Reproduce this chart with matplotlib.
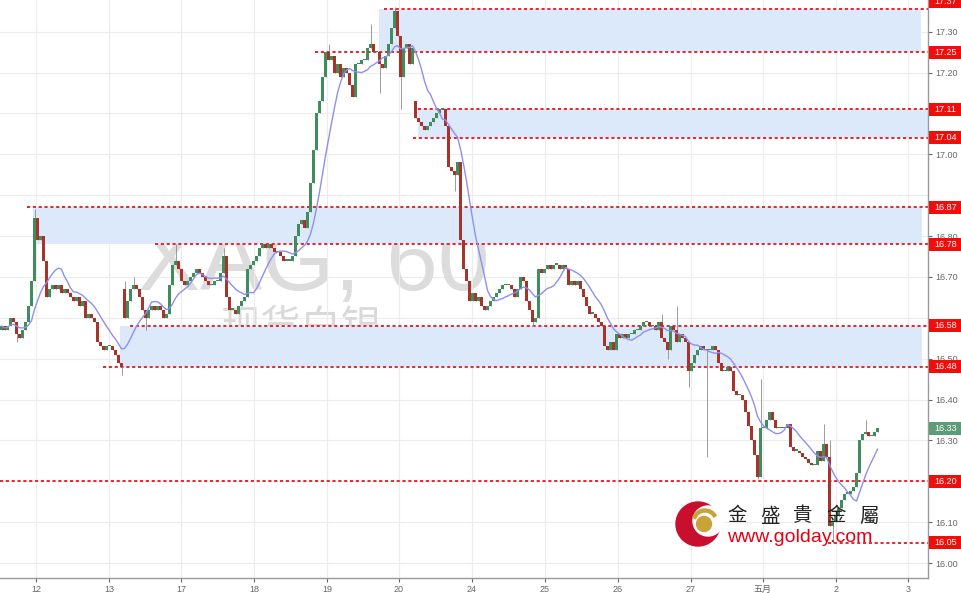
import matplotlib
matplotlib.use("Agg")
import matplotlib.pyplot as plt
import matplotlib.transforms as mtransforms
from matplotlib.patches import Rectangle, Circle, Wedge
import numpy as np
import pandas as pd

plt.rcParams["font.family"] = ["Liberation Sans", "Noto Sans CJK SC", "DejaVu Sans"]

# XAG 60분봉 종가 (왼쪽 -> 오른쪽)
closes = [
    16.58, 16.57, 16.58, 16.60, 16.59, 16.56, 16.55, 16.57, 16.59, 16.63,
    16.69, 16.845, 16.79, 16.80, 16.74, 16.65, 16.67, 16.68, 16.67, 16.68,
    16.66, 16.67, 16.66, 16.65, 16.64, 16.65, 16.63, 16.64, 16.60, 16.61,
    16.60, 16.59, 16.54, 16.53, 16.52, 16.53, 16.53, 16.52, 16.51, 16.49,
    16.48, 16.60, 16.64, 16.67, 16.68, 16.67, 16.65, 16.62, 16.60, 16.62,
    16.63, 16.62, 16.63, 16.62, 16.60, 16.61, 16.68, 16.73, 16.74, 16.72,
    16.69, 16.68, 16.69, 16.70, 16.71, 16.72, 16.71, 16.70, 16.69, 16.68,
    16.68, 16.69, 16.69, 16.71, 16.75, 16.65, 16.62, 16.62, 16.61, 16.63,
    16.64, 16.65, 16.72, 16.73, 16.74, 16.75, 16.77, 16.78, 16.77, 16.78,
    16.77, 16.76, 16.76, 16.75, 16.74, 16.74, 16.74, 16.75, 16.80, 16.83,
    16.84, 16.82, 16.86, 16.93, 17.01, 17.10, 17.13, 17.19, 17.25, 17.23,
    17.24, 17.20, 17.22, 17.19, 17.21, 17.20, 17.17, 17.14, 17.22, 17.22,
    17.23, 17.23, 17.26, 17.27, 17.25, 17.25, 17.22, 17.21, 17.24, 17.27,
    17.31, 17.35, 17.29, 17.19, 17.26, 17.27, 17.22, 17.26, 17.09, 17.08,
    17.07, 17.06, 17.07, 17.08, 17.09, 17.10, 17.11, 17.11, 17.07, 16.97,
    16.96, 16.95, 16.98, 16.79, 16.72, 16.69, 16.64, 16.66, 16.64, 16.65,
    16.63, 16.62, 16.63, 16.64, 16.65, 16.66, 16.67, 16.68, 16.68, 16.68,
    16.67, 16.65, 16.67, 16.70, 16.69, 16.64, 16.62, 16.59, 16.60, 16.72,
    16.71, 16.72, 16.73, 16.72, 16.73, 16.73, 16.72, 16.73, 16.72, 16.68,
    16.69, 16.68, 16.69, 16.67, 16.65, 16.63, 16.61, 16.61, 16.60, 16.59,
    16.58, 16.53, 16.52, 16.54, 16.52, 16.56, 16.55, 16.56, 16.55, 16.56,
    16.56, 16.57, 16.57, 16.58, 16.59, 16.59, 16.58, 16.58, 16.57, 16.59,
    16.55, 16.54, 16.52, 16.58, 16.57, 16.54, 16.56, 16.55, 16.54, 16.47,
    16.49, 16.51, 16.52, 16.53, 16.52, 16.52, 16.52, 16.53, 16.52, 16.49,
    16.47, 16.47, 16.48, 16.47, 16.42, 16.41, 16.41, 16.40, 16.37, 16.335,
    16.30, 16.265, 16.21, 16.33, 16.33, 16.35, 16.37, 16.35, 16.33, 16.33,
    16.33, 16.33, 16.34, 16.285, 16.275, 16.275, 16.27, 16.26, 16.255, 16.245,
    16.24, 16.24, 16.275, 16.25, 16.29, 16.26, 16.09, 16.10, 16.115, 16.135,
    16.155, 16.17, 16.17, 16.175, 16.185, 16.22, 16.30, 16.315, 16.32, 16.31,
    16.31, 16.32, 16.33,
]
first_open = 16.57
gap_opens = {41: 16.67, 138: 17.13}
wick_highs = {11: 16.865, 41: 16.69, 44: 16.70, 58: 16.78, 74: 16.77, 109: 17.27,
              123: 17.32, 131: 17.36, 220: 16.61, 225: 16.63, 253: 16.45,
              274: 16.34, 276: 16.30, 288: 16.35}
wick_lows = {5: 16.54, 40: 16.46, 48: 16.57, 126: 17.15, 133: 17.11, 151: 16.91,
             177: 16.58, 222: 16.50, 229: 16.43, 235: 16.26, 252: 16.205,
             277: 16.05}

day_labels = ["12", "13", "17", "18", "19", "20", "24", "25", "26", "27", "五月", "2", "3"]

price_ticks = [16.00, 16.10, 16.30, 16.40, 16.50, 16.70, 16.80, 17.00, 17.20, 17.30]
level_prices = [17.355, 17.25, 17.11, 17.04, 16.87, 16.78, 16.58, 16.48, 16.20, 16.05]
tag_prices = [17.375, 17.25, 17.11, 17.04, 16.87, 16.78, 16.58, 16.48, 16.20, 16.05]
tag_texts = ["17.37", "17.25", "17.11", "17.04", "16.87", "16.78", "16.58", "16.48", "16.20", "16.05"]
zone_low = [17.25, 17.04, 16.78, 16.48]
zone_high = [17.355, 17.11, 16.87, 16.58]
last_price = 16.33

# 레이아웃 (픽셀)
W, H = 962, 593
PLOT_W, PLOT_H = 928, 578
PX_BAR = 3.0
day_tick_px = [36, 109, 181, 254, 327, 399, 472, 545, 618, 691, 763, 836, 908]
level_start_px = [384, 315, 418, 413, 27, 155, 130, 103, 0, 828]
zone_start_px = [379, 418, 33, 120]
zone_end_px = [921, 928, 922, 922]
Y_TOP, Y_BOT = 17.3775, 15.9633

GREEN = "#3f8c5c"
RED = "#a8332a"
WICK = "#8c8c8c"
TAG_RED = "#f20d0d"
LINE_RED = "#e8262d"
ZONE = "#dce9fa"

fig = plt.figure(figsize=(W / 100, H / 100), dpi=100)
ax = fig.add_axes([0, (H - PLOT_H) / H, PLOT_W / W, PLOT_H / H])
ax.set_xlim(0, PLOT_W / PX_BAR)
ax.set_ylim(Y_BOT, Y_TOP)

# 캔들
c = np.array(closes)
n = len(c)
x = np.arange(n) + 0.5
o = np.r_[first_open, c[:-1]]
for k, v in gap_opens.items():
    o[k] = v
hi = np.maximum(o, c)
lo = np.minimum(o, c)
for k, v in wick_highs.items():
    hi[k] = v
for k, v in wick_lows.items():
    lo[k] = v
col = np.where(c >= o, GREEN, RED)
body = np.maximum(np.abs(c - o), 0.003)
ax.vlines(x, lo, hi, color=WICK, lw=0.6, zorder=3)
ax.bar(x, body, bottom=np.minimum(o, c), width=0.72, color=col, linewidth=0, zorder=4)

ma = pd.Series(c).rolling(10, min_periods=1).mean()
ax.plot(x, ma, color="#8f8ff0", lw=1.0, zorder=5)

# 지지/저항 구간
for zl, zh, xs, xe in zip(zone_low, zone_high, zone_start_px, zone_end_px):
    ax.add_patch(Rectangle((xs / PX_BAR, zl), (xe - xs) / PX_BAR, zh - zl,
                           facecolor=ZONE, edgecolor="none", zorder=1))
for p, xs in zip(level_prices, level_start_px):
    ax.hlines(p, xs / PX_BAR, PLOT_W / PX_BAR, colors=LINE_RED,
              linestyles=(0, (1.6, 1.4)), lw=1.4, zorder=2)

# 워터마크
ax.text(138 / PLOT_W, (PLOT_H - 290) / PLOT_H, "XAG, 60", transform=ax.transAxes,
        fontsize=67, color="#dcdcdc", ha="left", va="baseline", zorder=0.5)
ax.text(301 / PLOT_W, (PLOT_H - 327) / PLOT_H, "现货白银", transform=ax.transAxes,
        fontsize=29, color="#d9d9d9", ha="center", va="center", zorder=0.5,
        family=["Noto Sans CJK SC"])

# 축
ax.yaxis.tick_right()
ax.set_yticks(price_ticks)
ax.set_yticklabels([f"{v:.2f}" for v in price_ticks])
ax.set_xticks([p / PX_BAR for p in day_tick_px])
ax.set_xticklabels(day_labels)
ax.tick_params(axis="both", labelsize=6.5, colors="#666666", length=3, width=0.8)
ax.tick_params(axis="y", pad=2)
ax.tick_params(axis="x", pad=2)
for gp in np.arange(16.0, 17.31, 0.1):
    ax.axhline(gp, color="#ececec", lw=0.8, zorder=0)
ax.grid(True, axis="x", color="#ececec", lw=0.8, zorder=0)
ax.set_axisbelow(True)
for s in ["top", "left"]:
    ax.spines[s].set_visible(False)
for s in ["right", "bottom"]:
    ax.spines[s].set_color("#9a9a9a")
    ax.spines[s].set_linewidth(1.0)

# 오른쪽 가격 태그
trans = mtransforms.blended_transform_factory(ax.transAxes, ax.transData)
tag_h = 13 / (PLOT_H / (Y_TOP - Y_BOT))
tag_w = 33 / PLOT_W
for p, t, fc in zip(tag_prices + [last_price], tag_texts + [f"{last_price:.2f}"],
                    [TAG_RED] * len(tag_prices) + ["#5c9c78"]):
    ax.add_patch(Rectangle((1 + 1 / PLOT_W, p - tag_h / 2), tag_w, tag_h, transform=trans,
                           facecolor=fc, edgecolor="none", clip_on=False, zorder=10))
    ax.text(1 + 1 / PLOT_W + tag_w / 2, p, t, transform=trans, color="white",
            fontsize=6.5, ha="center", va="center", clip_on=False, zorder=11)

# 로고 (픽셀 좌표 오버레이)
ov = fig.add_axes([0, 0, 1, 1], zorder=20)
ov.set_xlim(0, W)
ov.set_ylim(H, 0)
ov.axis("off")
ov.patch.set_alpha(0)
ov.add_patch(Circle((698, 524), 22, color="#c8102e"))
ov.add_patch(Circle((708, 521), 15, color="white"))
ov.add_patch(Wedge((705, 522), 13, 200, 330, width=3, color="#c9a33a"))
ov.add_patch(Circle((704, 524), 7.5, color="#c9a33a"))
for i, ch in enumerate("金盛貴金屬"):
    ov.text(737 + 33 * i, 516, ch, fontsize=14, color="#222222", ha="center", va="center",
            family=["Noto Sans CJK TC"])
ov.text(800, 537, "www.golday.com", fontsize=14, color="#e60012", ha="center",
        va="center", family=["Liberation Sans"])

fig.savefig("out.png", dpi=100)
